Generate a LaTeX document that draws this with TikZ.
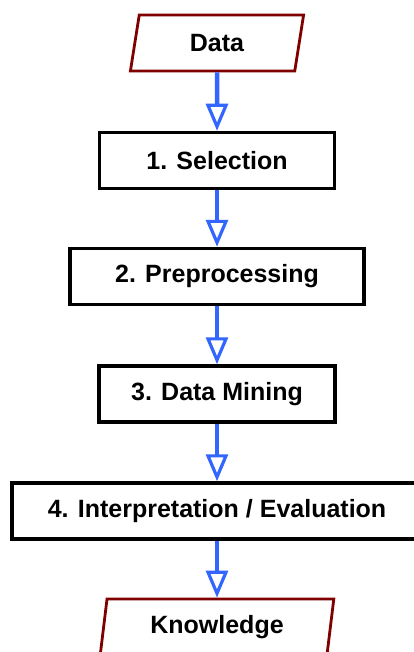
\documentclass[tikz,border=0pt]{standalone}
\usepackage{fontspec}
\setmainfont{Liberation Sans}
\usetikzlibrary{arrows.meta,positioning,shapes.geometric}
\definecolor{flowblue}{RGB}{51,102,255}
\definecolor{ioborder}{RGB}{128,0,0}

\begin{document}
\begin{tikzpicture}[
    x=1pt, y=-1pt,
    font=\fontsize{25}{30}\selectfont\bfseries,
    % 步驟方塊與輸入/輸出平行四邊形
    stepbox/.style={draw=black, line width=3.5pt, minimum height=56pt, inner sep=0pt},
    iobox/.style={trapezium, trapezium left angle=80, trapezium right angle=100,
        trapezium stretches=true, draw=ioborder, line width=2.8pt,
        minimum height=56pt, inner sep=0pt},
    flow/.style={draw=flowblue, line width=4.5pt,
        -{Triangle[open, width=22pt, length=27pt, line width=3.2pt]}}
]

% --- 1. 畫布範圍 ---
\clip (0,0) rectangle (414,652);

% --- 2. 輸入 ---
\node[iobox, minimum width=174pt] (data) at (217,43) {Data};

% --- 3. 各步驟 ---
\node[stepbox, minimum width=235pt] (selection) at (217,160.5) {1. Selection};
\node[stepbox, minimum width=294pt] (preproc) at (217,276.5) {2. Preprocessing};
\node[stepbox, minimum width=236pt] (mining) at (217,394) {3. Data Mining};
\node[stepbox, minimum width=410pt] (interp) at (217,511) {4. Interpretation / Evaluation};

% --- 4. 輸出 ---
\node[iobox, minimum width=234pt] (knowledge) at (217,627) {Knowledge};

% --- 5. 流程箭頭 ---
\draw[flow] (data) -- (selection);
\draw[flow] (selection) -- (preproc);
\draw[flow] (preproc) -- (mining);
\draw[flow] (mining) -- (interp);
\draw[flow] (interp) -- (knowledge);

\end{tikzpicture}
\end{document}
